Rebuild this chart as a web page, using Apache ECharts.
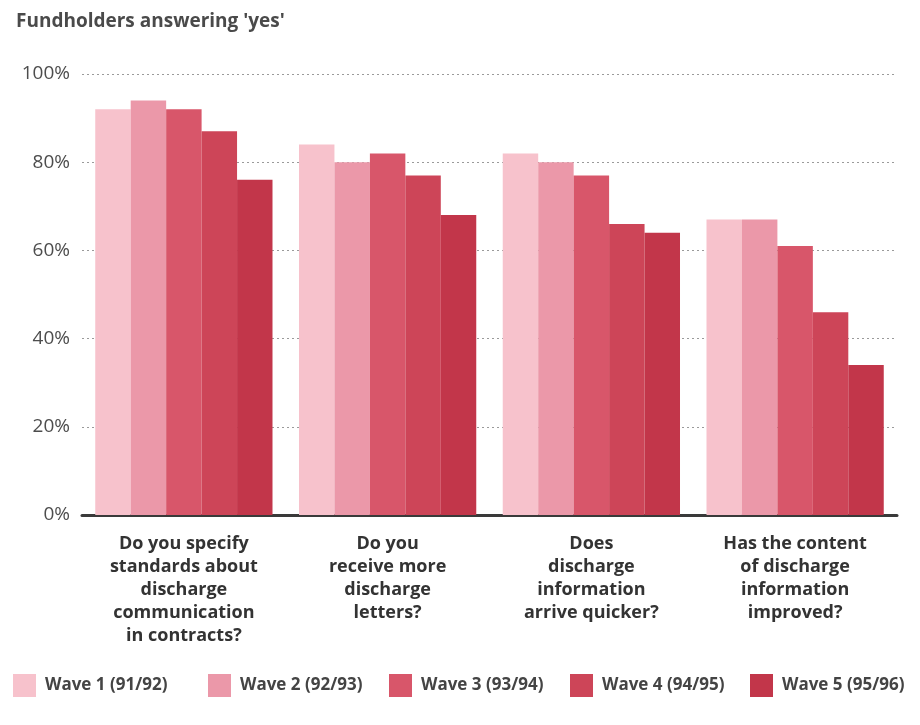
<!DOCTYPE html>
<html>
<head>
<meta charset="utf-8">
<script src="https://cdn.jsdelivr.net/npm/echarts@6/dist/echarts.min.js"></script>
<style>
  html, body { margin: 0; padding: 0; background: #ffffff; }
  #chart { width: 920px; height: 725px; }
</style>
</head>
<body>
<div id="chart"></div>
<script>
// Survey questions (x-axis categories)
const categories = [
  'Do you specify\nstandards about\ndischarge\ncommunication\nin contracts?',
  'Do you\nreceive more\ndischarge\nletters?',
  'Does\ndischarge\ninformation\narrive quicker?',
  'Has the content\nof discharge\ninformation\nimproved?'
];

// Percentage of fundholders answering 'yes', one array per survey wave
const wave1 = [92, 84, 82, 67];
const wave2 = [94, 80, 80, 67];
const wave3 = [92, 82, 77, 61];
const wave4 = [87, 77, 66, 46];
const wave5 = [76, 68, 64, 34];

const seriesNames = ['Wave 1 (91/92)', 'Wave 2 (92/93)', 'Wave 3 (93/94)', 'Wave 4 (94/95)', 'Wave 5 (95/96)'];
const seriesData = [wave1, wave2, wave3, wave4, wave5];
const seriesColors = ['#f7c2cc', '#eb98a9', '#d8566a', '#cd4558', '#c2364a'];

const yTicks = [0, 20, 40, 60, 80, 100];

// left edge of each legend entry along the bottom row
const legendLefts = [13, 208, 389, 570, 750];

const FONT = "'Open Sans', 'Noto Sans', sans-serif";

const chart = echarts.init(document.getElementById('chart'), null, { renderer: 'canvas' });

chart.setOption({
  backgroundColor: '#ffffff',
  animation: false,
  textStyle: { fontFamily: FONT },
  title: {
    text: "Fundholders answering 'yes'",
    left: 11,
    top: 7,
    textStyle: { fontFamily: FONT, fontSize: 19, fontWeight: 'bold', color: '#4a4a4a' }
  },
  legend: seriesNames.map((name, i) => ({
    data: [name],
    left: legendLefts[i],
    top: 674,
    padding: 0,
    itemWidth: 23,
    itemHeight: 23,
    icon: 'rect',
    textStyle: { fontFamily: FONT, fontSize: 17, fontWeight: 'bold', color: '#444444', padding: [2, 0, 0, 4] }
  })),
  grid: { left: 82, right: 23, top: 74, bottom: 210, containLabel: false },
  xAxis: {
    type: 'category',
    data: categories,
    axisTick: { show: false },
    axisLine: { show: true, lineStyle: { color: '#3a3a3a', width: 3 } },
    axisLabel: {
      margin: 17,
      interval: 0,
      fontFamily: FONT,
      fontSize: 18,
      fontWeight: 'bold',
      lineHeight: 23,
      color: '#333333',
      align: 'center'
    }
  },
  yAxis: {
    type: 'value',
    min: yTicks[0],
    max: yTicks[yTicks.length - 1],
    interval: 20,
    axisLine: { show: false },
    axisTick: { show: false },
    axisLabel: {
      formatter: '{value}%',
      fontFamily: FONT,
      fontSize: 19,
      color: '#4d4d4d',
      margin: 12
    },
    splitLine: {
      show: true,
      lineStyle: { color: '#9a9a9a', type: [2, 3], width: 1 }
    }
  },
  series: seriesData.map((d, i) => ({
    name: seriesNames[i],
    type: 'bar',
    data: d,
    barGap: '0%',
    barCategoryGap: '13%',
    itemStyle: { color: seriesColors[i] },
    emphasis: { disabled: true }
  }))
});
</script>
</body>
</html>
